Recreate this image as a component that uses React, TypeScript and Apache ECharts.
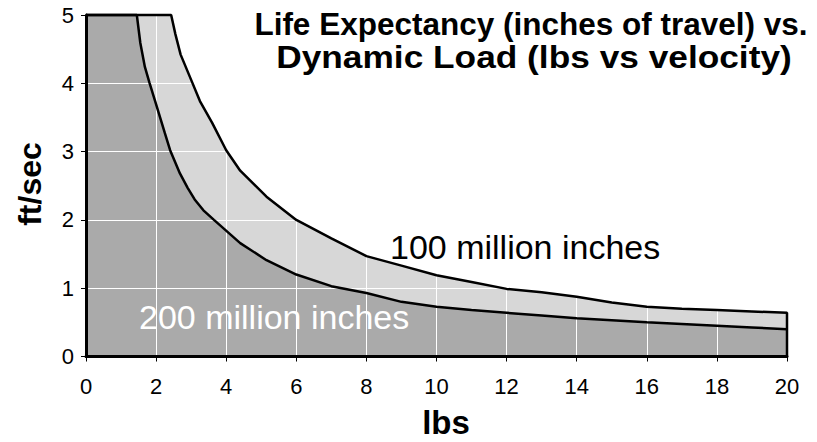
import { useEffect, useRef } from "react";
import * as echarts from "echarts";

const xTicks = [0, 2, 4, 6, 8, 10, 12, 14, 16, 18, 20];
const yTicks = [0, 1, 2, 3, 4, 5];

const outerX = [0, 2.43, 2.55, 2.7, 3.0, 3.25, 3.6, 4.0, 4.4, 5.15, 6.0, 7.0, 8.0, 9.0, 10.0, 11.0, 12.0, 13.0, 14.0, 15.0, 16.0, 17.0, 18.0, 19.0, 20.0];
const outerY = [5, 5, 4.72, 4.42, 4.05, 3.74, 3.42, 3.02, 2.72, 2.34, 2.0, 1.73, 1.47, 1.33, 1.19, 1.09, 0.99, 0.94, 0.875, 0.79, 0.73, 0.7, 0.68, 0.66, 0.64];

const innerX = [0, 1.45, 1.55, 1.68, 1.81, 2.02, 2.25, 2.4, 2.68, 2.9, 3.1, 3.35, 3.65, 4.4, 5.15, 6.0, 7.0, 8.0, 9.0, 10.0, 11.0, 12.0, 13.0, 14.0, 15.0, 16.0, 17.0, 18.0, 19.0, 20.0];
const innerY = [5, 5, 4.59, 4.24, 4.01, 3.66, 3.27, 3.02, 2.68, 2.47, 2.3, 2.14, 2.0, 1.66, 1.41, 1.2, 1.03, 0.93, 0.8, 0.73, 0.68, 0.64, 0.6, 0.56, 0.53, 0.5, 0.475, 0.45, 0.425, 0.4];

const outerLabel = "100 million inches";
const innerLabel = "200 million inches";
const titleLines = ["Life Expectancy (inches of travel) vs.", "Dynamic Load (lbs vs velocity)"];
const xName = "lbs";
const yName = "ft/sec";

const FONT = '"Liberation Sans", Arial, Helvetica, sans-serif';

export default function App() {
  const ref = useRef<HTMLDivElement>(null);

  useEffect(() => {
    document.body.style.margin = "0";
    if (!ref.current) return;
    const chart = echarts.init(ref.current, undefined, { renderer: "svg" });

    const outer = outerX.map((x, i) => [x, outerY[i]]);
    const inner = innerX.map((x, i) => [x, innerY[i]]);
    const lastX = outerX[outerX.length - 1];

    const split = {
      show: true,
      showMinLine: false,
      showMaxLine: false,
      lineStyle: { color: "#ffffff", width: 1, type: "solid" },
    };

    chart.setOption({
      animation: false,
      backgroundColor: "#ffffff",
      grid: { left: 86, right: 30, top: 15, bottom: 85.5, containLabel: false },
      xAxis: {
        type: "value",
        min: xTicks[0],
        max: xTicks[xTicks.length - 1],
        interval: xTicks[1] - xTicks[0],
        z: 10,
        axisLine: { show: true, onZero: false, lineStyle: { color: "#000", width: 3 } },
        axisTick: { show: true, length: 5, lineStyle: { color: "#000", width: 1 } },
        axisLabel: { color: "#000", fontSize: 22, fontFamily: FONT, margin: 19 },
        splitLine: split,
      },
      yAxis: {
        type: "value",
        min: yTicks[0],
        max: yTicks[yTicks.length - 1],
        interval: yTicks[1] - yTicks[0],
        z: 10,
        axisLine: { show: true, onZero: false, lineStyle: { color: "#000", width: 3 } },
        axisTick: { show: true, length: 5, lineStyle: { color: "#000", width: 1 } },
        axisLabel: { color: "#000", fontSize: 22, fontFamily: FONT, margin: 12 },
        splitLine: split,
      },
      series: [
        {
          type: "line",
          data: outer,
          z: 1,
          showSymbol: false,
          symbol: "none",
          lineStyle: { width: 0 },
          areaStyle: { color: "#d7d7d7", opacity: 1 },
          silent: true,
        },
        {
          type: "line",
          data: inner,
          z: 2,
          showSymbol: false,
          symbol: "none",
          lineStyle: { width: 0 },
          areaStyle: { color: "#aaaaaa", opacity: 1 },
          silent: true,
        },
        {
          type: "line",
          data: [...outer, [lastX, 0]],
          z: 12,
          clip: false,
          showSymbol: false,
          symbol: "none",
          lineStyle: { color: "#000", width: 2.5 },
          silent: true,
        },
        {
          type: "line",
          data: inner,
          z: 12,
          clip: false,
          showSymbol: false,
          symbol: "none",
          lineStyle: { color: "#000", width: 2.5 },
          silent: true,
        },
      ],
      graphic: [
        {
          type: "text",
          x: 531,
          y: 24,
          z: 20,
          style: {
            text: titleLines[0],
            fontSize: 31.5,
            fontWeight: "bold",
            fontFamily: FONT,
            fill: "#000",
            textAlign: "center",
            textVerticalAlign: "middle",
          },
        },
        {
          type: "text",
          x: 534,
          y: 57,
          z: 20,
          scaleX: 1.12,
          style: {
            text: titleLines[1],
            fontSize: 31.5,
            fontWeight: "bold",
            fontFamily: FONT,
            fill: "#000",
            textAlign: "center",
            textVerticalAlign: "middle",
          },
        },
        {
          type: "text",
          x: 390,
          y: 247,
          z: 20,
          style: {
            text: outerLabel,
            fontSize: 34,
            fontFamily: FONT,
            fill: "#000",
            textAlign: "left",
            textVerticalAlign: "middle",
          },
        },
        {
          type: "text",
          x: 139,
          y: 317,
          z: 20,
          style: {
            text: innerLabel,
            fontSize: 34,
            fontFamily: FONT,
            fill: "#ffffff",
            textAlign: "left",
            textVerticalAlign: "middle",
          },
        },
        {
          type: "text",
          x: 446,
          y: 422,
          z: 20,
          style: {
            text: xName,
            fontSize: 33,
            fontWeight: "bold",
            fontFamily: FONT,
            fill: "#000",
            textAlign: "center",
            textVerticalAlign: "middle",
          },
        },
        {
          type: "text",
          x: 30,
          y: 184,
          z: 20,
          rotation: Math.PI / 2,
          style: {
            text: yName,
            fontSize: 32,
            fontWeight: "bold",
            fontFamily: FONT,
            fill: "#000",
            textAlign: "center",
            textVerticalAlign: "middle",
          },
        },
      ],
    });

    return () => chart.dispose();
  }, []);

  return <div ref={ref} style={{ width: 817, height: 442 }} />;
}
